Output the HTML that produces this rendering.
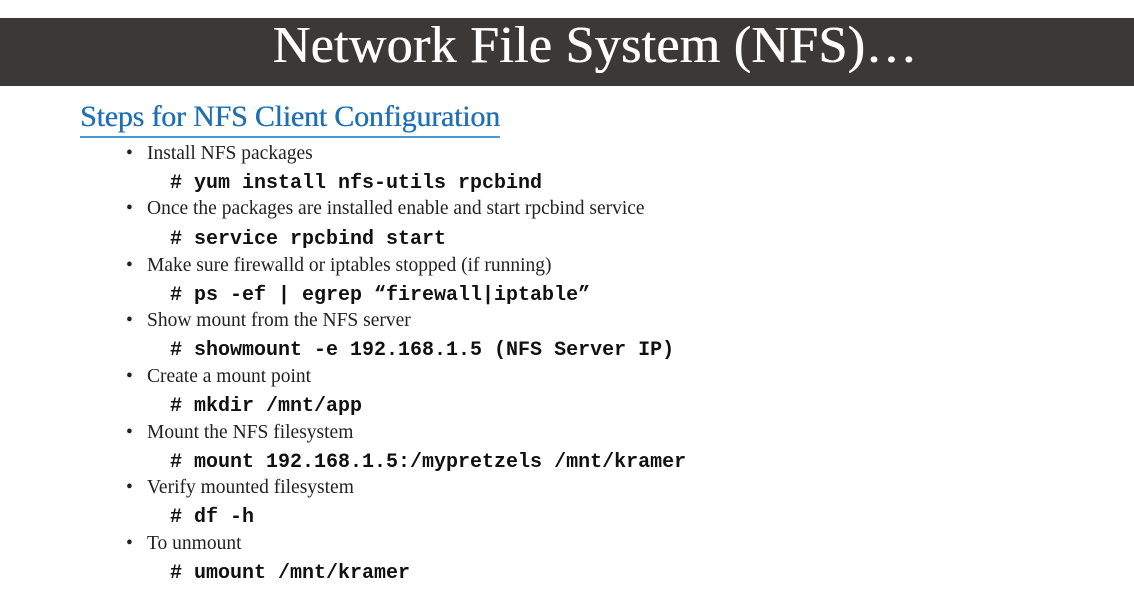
<!DOCTYPE html>
<html><head><style>
body{margin:0;width:1134px;height:600px;background:#fff;position:relative;overflow:hidden;font-family:"Liberation Serif",serif}
.bar{position:absolute;left:0;top:18px;width:1134px;height:68px;background:#3a3938}
.title{position:absolute;left:0;width:1190px;top:16px;text-align:center;color:#fff;font-size:52px;line-height:60px;letter-spacing:0.3px;text-shadow:0.6px 0 0 #fff}
.h{position:absolute;left:80px;top:99px;color:#1f6fb5;font-size:30px;line-height:36px;letter-spacing:-0.2px;text-shadow:0.4px 0 0 #1f6fb5}
.ul{position:absolute;left:80px;top:136px;width:420px;height:2px;background:#4a9ad6}
.b{position:absolute;left:147px;font-size:19.5px;color:#222;line-height:22px}
.b:before{content:"•";position:absolute;left:-21px}
.c{position:absolute;left:170px;font-family:"Liberation Mono",monospace;font-weight:bold;font-size:20px;color:#111;line-height:22px}
</style></head><body>
<div class="bar"></div>
<div class="title">Network File System (NFS)…</div>
<div class="h">Steps for NFS Client Configuration</div>
<div class="ul"></div>
<div class="b" style="top:143px">Install NFS packages</div>
<div class="c" style="top:173px"># yum install nfs-utils rpcbind</div>
<div class="b" style="top:198px">Once the packages are installed enable and start rpcbind service</div>
<div class="c" style="top:229px"># service rpcbind start</div>
<div class="b" style="top:255px">Make sure firewalld or iptables stopped (if running)</div>
<div class="c" style="top:285px"># ps -ef | egrep “firewall|iptable”</div>
<div class="b" style="top:310px">Show mount from the NFS server</div>
<div class="c" style="top:340px"># showmount -e 192.168.1.5 (NFS Server IP)</div>
<div class="b" style="top:366px">Create a mount point</div>
<div class="c" style="top:396px"># mkdir /mnt/app</div>
<div class="b" style="top:422px">Mount the NFS filesystem</div>
<div class="c" style="top:452px"># mount 192.168.1.5:/mypretzels /mnt/kramer</div>
<div class="b" style="top:477px">Verify mounted filesystem</div>
<div class="c" style="top:507px"># df -h</div>
<div class="b" style="top:533px">To unmount</div>
<div class="c" style="top:563px"># umount /mnt/kramer</div>
</body></html>
